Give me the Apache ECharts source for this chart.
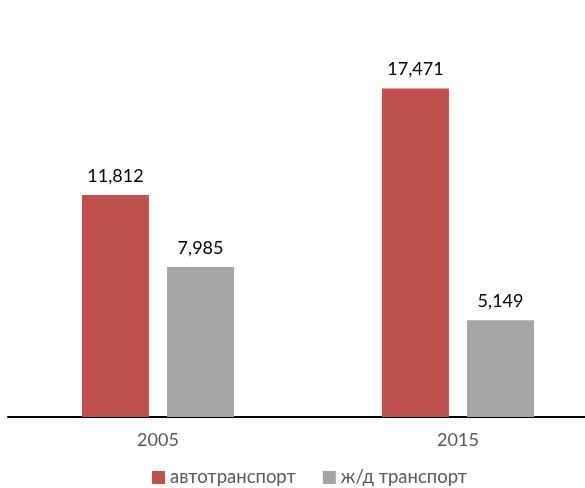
<!DOCTYPE html>
<html><head><meta charset="utf-8">
<script src="https://cdn.jsdelivr.net/npm/echarts@6/dist/echarts.min.js"></script>
<style>html,body{margin:0;padding:0;background:#fff;overflow:hidden;width:585px;height:488px}#c{width:608px;height:488px}</style>
</head><body><div id="c"></div>
<script>
const categories = ['2005', '2015'];
const seriesNames = ['автотранспорт', 'ж/д транспорт'];
const autoValues = [11812, 17471];
const railValues = [7985, 5149];

const chart = echarts.init(document.getElementById('c'));
const fmt = p => p.value.toLocaleString('en-US');
chart.setOption({
  animation: false,
  textStyle: { fontFamily: 'Lato' },
  grid: { left: 8, right: 0, top: 41, bottom: 71, containLabel: false },
  legend: {
    bottom: 1, left: 152, padding: 0,
    itemWidth: 13, itemHeight: 13, itemGap: 27, itemTextGap: 5,
    icon: 'rect',
    textStyle: { color: '#595959', fontSize: 18.5, fontFamily: 'Lato' },
    data: seriesNames
  },
  xAxis: {
    type: 'category', data: categories,
    axisLine: { lineStyle: { color: '#000', width: 2 } },
    axisTick: { show: false },
    axisLabel: { color: '#595959', fontSize: 18, margin: 14, fontFamily: 'Lato' }
  },
  yAxis: { type: 'value', min: 0, max: 20000, show: false, splitLine: { show: false } },
  series: [
    { name: seriesNames[0], type: 'bar', data: autoValues, barWidth: 67, barGap: '27%',
      itemStyle: { color: '#C0504D' },
      label: { show: true, position: 'top', distance: 10, color: '#000', fontSize: 18, fontFamily: 'Lato', formatter: fmt } },
    { name: seriesNames[1], type: 'bar', data: railValues, barWidth: 67,
      itemStyle: { color: '#A5A5A5' },
      label: { show: true, position: 'top', distance: 10, color: '#000', fontSize: 18, fontFamily: 'Lato', formatter: fmt } }
  ]
});
</script></body></html>
